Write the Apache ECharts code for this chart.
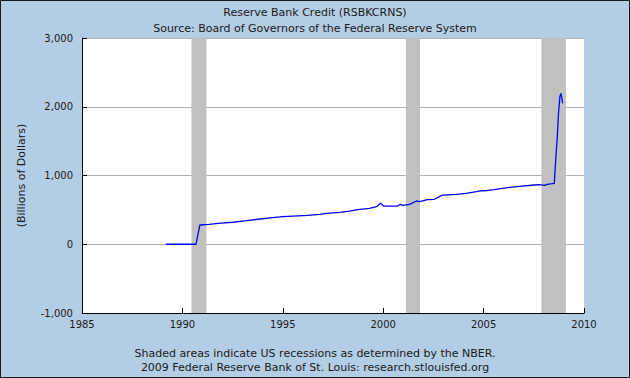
<!DOCTYPE html>
<html>
<head>
<meta charset="utf-8">
<script src="https://cdn.jsdelivr.net/npm/echarts@6/dist/echarts.min.js"></script>
<style>
html,body{margin:0;padding:0;background:#b3cde4;}
#c{width:630px;height:378px;}
</style>
</head>
<body>
<div id="c"></div>
<script>
// Data (decimal year, billions of dollars)
var dates = [1989.18, 1990.68, 1990.78, 1990.87, 1991.32, 1991.77, 1992.51, 1993.21, 1993.86, 1994.50, 1995.00, 1995.75, 1996.24, 1996.84, 1997.19, 1997.83, 1998.33, 1998.73, 1999.32, 1999.67, 1999.86, 2000.02, 2000.72, 2000.86, 2000.96, 2001.31, 2001.66, 2001.81, 2002.21, 2002.55, 2002.80, 2002.95, 2003.65, 2004.14, 2004.64, 2004.89, 2005.04, 2005.53, 2006.28, 2006.78, 2007.52, 2007.77, 2008.02, 2008.17, 2008.52, 2008.59, 2008.68, 2008.73, 2008.80, 2008.85, 2008.90, 2008.93];
var values = [0, 0, 150, 280, 290, 305, 320, 343, 367, 387, 401, 413, 420, 435, 450, 465, 483, 503, 523, 546, 595, 556, 556, 581, 566, 581, 629, 619, 648, 654, 692, 716, 726, 740, 765, 779, 775, 794, 828, 843, 862, 867, 857, 872, 886, 1225, 1613, 1905, 2146, 2195, 2123, 2050];
var recessionStarts = [1990.45, 2001.13, 2007.88];
var recessionEnds = [1991.2, 2001.83, 2009.1];
var xTicks = [1985, 1990, 1995, 2000, 2005, 2010];
var yTicks = [-1000, 0, 1000, 2000, 3000];

var seriesData = dates.map(function (d, i) { return [d, values[i]]; });
var areas = recessionStarts.map(function (s, i) { return [{ xAxis: s }, { xAxis: recessionEnds[i] }]; });

function fmt(v) {
  var s = Math.abs(v).toString().replace(/\B(?=(\d{3})+(?!\d))/g, ',');
  return (v < 0 ? '-' : '') + s;
}

var FONT = 'DejaVu Sans';
var chart = echarts.init(document.getElementById('c'), null, { renderer: 'svg' });
chart.setOption({
  backgroundColor: '#b3cde4',
  animation: false,
  textStyle: { fontFamily: FONT },
  grid: { left: 82, right: 46, top: 38, bottom: 65, show: true, backgroundColor: '#ffffff', borderWidth: 0 },
  graphic: [
    { type: 'rect', shape: { x: 0.5, y: 0.5, width: 629, height: 377 }, style: { fill: 'none', stroke: '#1a1a1a', lineWidth: 1 }, z: 100 },
    { type: 'text', x: 315, y: 12, style: { text: 'Reserve Bank Credit (RSBKCRNS)', font: '11px ' + FONT, fill: '#1a1a1a', textAlign: 'center', textVerticalAlign: 'middle' } },
    { type: 'text', x: 315, y: 28, style: { text: 'Source: Board of Governors of the Federal Reserve System', font: '11px ' + FONT, fill: '#1a1a1a', textAlign: 'center', textVerticalAlign: 'middle' } },
    { type: 'text', x: 315, y: 353, style: { text: 'Shaded areas indicate US recessions as determined by the NBER.', font: '11px ' + FONT, fill: '#1a1a1a', textAlign: 'center', textVerticalAlign: 'middle' } },
    { type: 'text', x: 315, y: 367, style: { text: '2009 Federal Reserve Bank of St. Louis: research.stlouisfed.org', font: '11px ' + FONT, fill: '#1a1a1a', textAlign: 'center', textVerticalAlign: 'middle' } }
  ],
  xAxis: {
    type: 'value', min: xTicks[0], max: xTicks[xTicks.length - 1], interval: 5,
    axisLine: { onZero: false, lineStyle: { color: '#000', width: 1 } },
    axisTick: { inside: true, length: 5, lineStyle: { color: '#000' } },
    axisLabel: { color: '#1a1a1a', fontSize: 10, margin: 6, formatter: function (v) { return String(v); } },
    splitLine: { show: false }
  },
  yAxis: {
    type: 'value', min: yTicks[0], max: yTicks[yTicks.length - 1], interval: 1000,
    name: '(Billions of Dollars)', nameLocation: 'middle', nameRotate: 90, nameGap: 55,
    nameTextStyle: { color: '#1a1a1a', fontSize: 11 },
    axisLine: { show: true, lineStyle: { color: '#000', width: 1 } },
    axisTick: { show: true, inside: true, length: 5, lineStyle: { color: '#000' } },
    axisLabel: { color: '#1a1a1a', fontSize: 10, margin: 9, formatter: fmt },
    splitLine: { show: true, lineStyle: { color: '#b0b0b0', width: 1 } }
  },
  series: [
    {
      type: 'line', data: [], silent: true, z: 1,
      markArea: { silent: true, itemStyle: { color: '#c0c0c0' }, data: areas }
    },
    {
      type: 'line', data: seriesData, showSymbol: false, z: 5,
      lineStyle: { color: '#0000ff', width: 1.3 }, itemStyle: { color: '#0000ff' }
    }
  ]
});
</script>
</body>
</html>
